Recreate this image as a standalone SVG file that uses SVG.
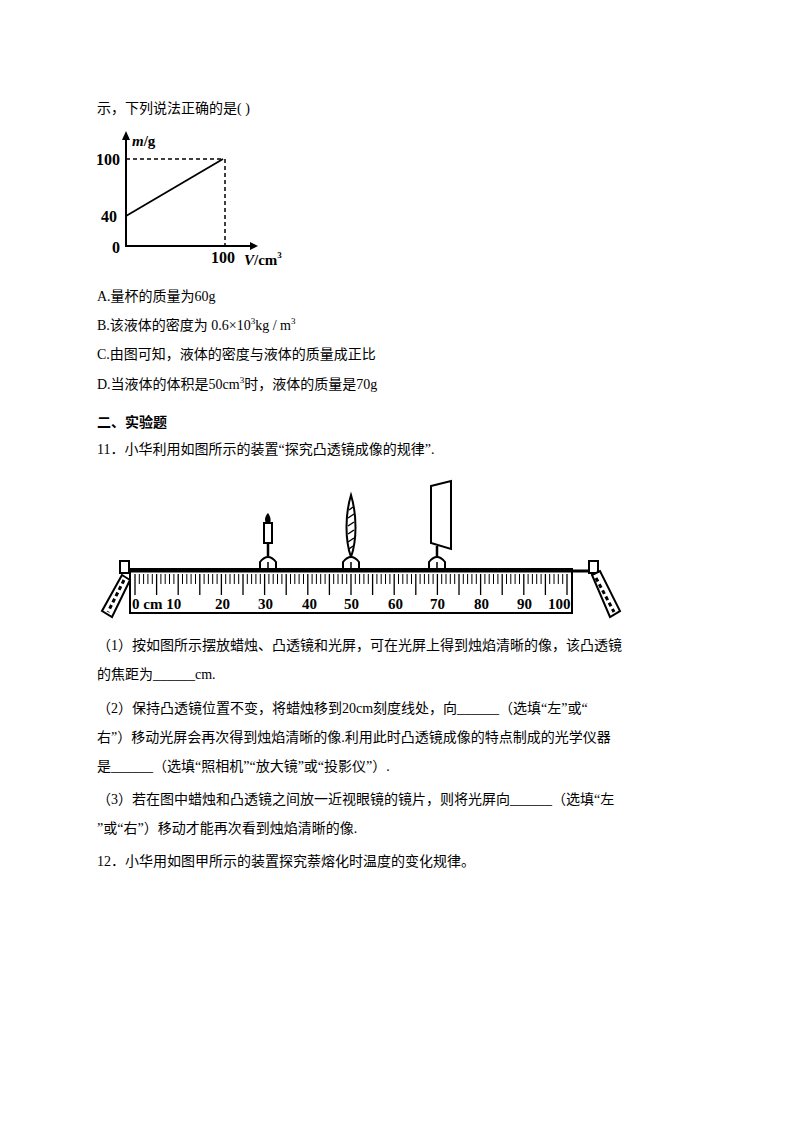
<svg xmlns="http://www.w3.org/2000/svg" width="794" height="1123" viewBox="0 0 794 1123">
<style>
.t{font-family:"Liberation Serif","Noto Sans CJK SC",serif;font-size:14px;fill:#000}
.b{font-weight:bold}
.g{font-family:"Liberation Serif",serif;font-weight:bold;fill:#000}
.l{stroke:#000;fill:none}
</style>
<rect width="794" height="1123" fill="#fff"/>
<text class="t" x="97" y="113">示，下列说法正确的是( )</text>
<g id="graph">
<line class="l" x1="126" y1="247" x2="126" y2="138" stroke-width="2"/>
<polygon points="122,140 130,140 126,131"/>
<line class="l" x1="126" y1="246" x2="252" y2="246" stroke-width="2"/>
<polygon points="250,242 250,250 258,246"/>
<line class="l" x1="126" y1="159" x2="223" y2="159" stroke-dasharray="4,3" stroke-width="1.5"/>
<line class="l" x1="225" y1="159" x2="225" y2="246" stroke-dasharray="4,3" stroke-width="1.5"/>
<line class="l" x1="126" y1="216" x2="223" y2="159" stroke-width="1.8"/>
<text class="g" x="132" y="146" font-size="15"><tspan font-style="italic">m</tspan>/g</text>
<text class="g" x="96" y="165" font-size="16">100</text>
<text class="g" x="101" y="222" font-size="16">40</text>
<text class="g" x="112" y="253" font-size="16">0</text>
<text class="g" x="211" y="263" font-size="16">100</text>
<text class="g" x="244" y="265" font-size="15"><tspan font-style="italic">V</tspan>/cm<tspan font-size="9" dy="-7">3</tspan></text>
</g>
<text class="t" x="97" y="301">A.量杯的质量为60g</text>
<text class="t" x="97" y="330">B.该液体的密度为 0.6×10<tspan font-size="9" dy="-6">3</tspan><tspan dy="6">kg / m</tspan><tspan font-size="9" dy="-6">3</tspan></text>
<text class="t" x="97" y="359">C.由图可知，液体的密度与液体的质量成正比</text>
<text class="t" x="97" y="389">D.当液体的体积是50cm<tspan font-size="9" dy="-6">3</tspan><tspan dy="6">时，液体的质量是70g</tspan></text>
<text class="t b" x="97" y="427">二、实验题</text>
<text class="t" x="97" y="454">11．小华利用如图所示的装置“探究凸透镜成像的规律”.</text>
<g id="bench">
<rect x="130" y="569" width="442" height="44" fill="#fff" stroke="#000" stroke-width="2"/>
<line class="l" x1="122" y1="571" x2="592" y2="571" stroke-width="3"/>
<path stroke="#000" stroke-width="1.3" d="M135,574V595 M156.6,574V595 M178.2,574V595 M199.8,574V595 M221.4,574V595 M243,574V595 M264.6,574V595 M286.2,574V595 M307.8,574V595 M329.4,574V595 M351,574V595 M372.6,574V595 M394.2,574V595 M415.8,574V595 M437.4,574V595 M459,574V595 M480.6,574V595 M502.2,574V595 M523.8,574V595 M545.4,574V595 M567,574V595"/>
<path stroke="#000" stroke-width="1" d="M139.3,574v10M143.6,574v10M147.9,574v10M152.3,574v10M160.9,574v10M165.2,574v10M169.5,574v10M173.9,574v10M182.5,574v10M186.8,574v10M191.1,574v10M195.5,574v10M204.1,574v10M208.4,574v10M212.7,574v10M217.1,574v10M225.7,574v10M230,574v10M234.3,574v10M238.7,574v10M247.3,574v10M251.6,574v10M255.9,574v10M260.3,574v10M268.9,574v10M273.2,574v10M277.5,574v10M281.9,574v10M290.5,574v10M294.8,574v10M299.1,574v10M303.5,574v10M312.1,574v10M316.4,574v10M320.7,574v10M325.1,574v10M333.7,574v10M338,574v10M342.3,574v10M346.7,574v10M355.3,574v10M359.6,574v10M363.9,574v10M368.3,574v10M376.9,574v10M381.2,574v10M385.5,574v10M389.9,574v10M398.5,574v10M402.8,574v10M407.1,574v10M411.5,574v10M420.1,574v10M424.4,574v10M428.7,574v10M433.1,574v10M441.7,574v10M446,574v10M450.3,574v10M454.7,574v10M463.3,574v10M467.6,574v10M471.9,574v10M476.3,574v10M484.9,574v10M489.2,574v10M493.5,574v10M497.9,574v10M506.5,574v10M510.8,574v10M515.1,574v10M519.5,574v10M528.1,574v10M532.4,574v10M536.7,574v10M541.1,574v10M549.7,574v10M554,574v10M558.3,574v10M562.7,574v10"/>
<g class="g" font-size="15">
<text x="132" y="609">0 cm 10</text>
<text x="215" y="609">20</text><text x="258" y="609">30</text><text x="302" y="609">40</text><text x="344" y="609">50</text><text x="388" y="609">60</text><text x="430" y="609">70</text><text x="474" y="609">80</text><text x="517" y="609">90</text><text x="548" y="609">100</text>
</g>
<rect x="120" y="561" width="9" height="12" fill="#fff" stroke="#000" stroke-width="2"/>
<polygon points="122,575 130,580 112,617 102,611" fill="#fff" stroke="#000" stroke-width="2"/>
<path class="l" stroke-width="3" stroke-dasharray="4,3" d="M124,580 L108,612"/>
<rect x="589" y="561" width="9" height="12" fill="#fff" stroke="#000" stroke-width="2"/>
<polygon points="592,575 600,571 620,611 610,617" fill="#fff" stroke="#000" stroke-width="2"/>
<path class="l" stroke-width="3" stroke-dasharray="4,3" d="M596,578 L614,612"/>
</g>
<g id="candle">
<path d="M268,513 C264,517 264,523 268,524 C272,523 271,517 268,513Z" fill="#000"/>
<rect x="264" y="523" width="8" height="20" fill="#fff" stroke="#000" stroke-width="2"/>
<line class="l" x1="268" y1="543" x2="268" y2="556" stroke-width="2.5"/>
<path d="M260,569 V562 Q268,552 276,562 V569 Z" fill="#fff" stroke="#000" stroke-width="2"/>
<line class="l" x1="268" y1="562" x2="268" y2="569" stroke-width="1.5"/>
</g>
<g id="lens">
<path d="M351,495 C345,515 345,540 351,557 C357,540 357,515 351,495Z" fill="#fff" stroke="#000" stroke-width="2"/>
<path class="l" stroke-width="1.5" d="M349,510l4,-3M348,518l6,-4M348,526l6,-4M348,534l6,-4M348,542l6,-4M349,549l4,-3"/>
<line class="l" x1="351" y1="556" x2="351" y2="561" stroke-width="2.5"/>
<path d="M343,569 V562 Q351,552 359,562 V569 Z" fill="#fff" stroke="#000" stroke-width="2"/>
<line class="l" x1="351" y1="562" x2="351" y2="569" stroke-width="1.5"/>
</g>
<g id="screen">
<polygon points="431,486 451,481 451,549 431,543" fill="#fff" stroke="#000" stroke-width="2"/>
<line class="l" x1="437" y1="546" x2="437" y2="558" stroke-width="2.5"/>
<path d="M429,569 V562 Q437,552 445,562 V569 Z" fill="#fff" stroke="#000" stroke-width="2"/>
<line class="l" x1="437" y1="562" x2="437" y2="569" stroke-width="1.5"/>
</g>
<text class="t" x="97" y="650">（1）按如图所示摆放蜡烛、凸透镜和光屏，可在光屏上得到烛焰清晰的像，该凸透镜</text>
<text class="t" x="97" y="679">的焦距为______cm.</text>
<text class="t" x="97" y="713">（2）保持凸透镜位置不变，将蜡烛移到20cm刻度线处，向______（选填“左”或“</text>
<text class="t" x="97" y="742">右”）移动光屏会再次得到烛焰清晰的像.利用此时凸透镜成像的特点制成的光学仪器</text>
<text class="t" x="97" y="771">是______（选填“照相机”“放大镜”或“投影仪”）.</text>
<text class="t" x="97" y="804">（3）若在图中蜡烛和凸透镜之间放一近视眼镜的镜片，则将光屏向______（选填“左</text>
<text class="t" x="97" y="833">”或“右”）移动才能再次看到烛焰清晰的像.</text>
<text class="t" x="97" y="866">12．小华用如图甲所示的装置探究萘熔化时温度的变化规律。</text>
</svg>
